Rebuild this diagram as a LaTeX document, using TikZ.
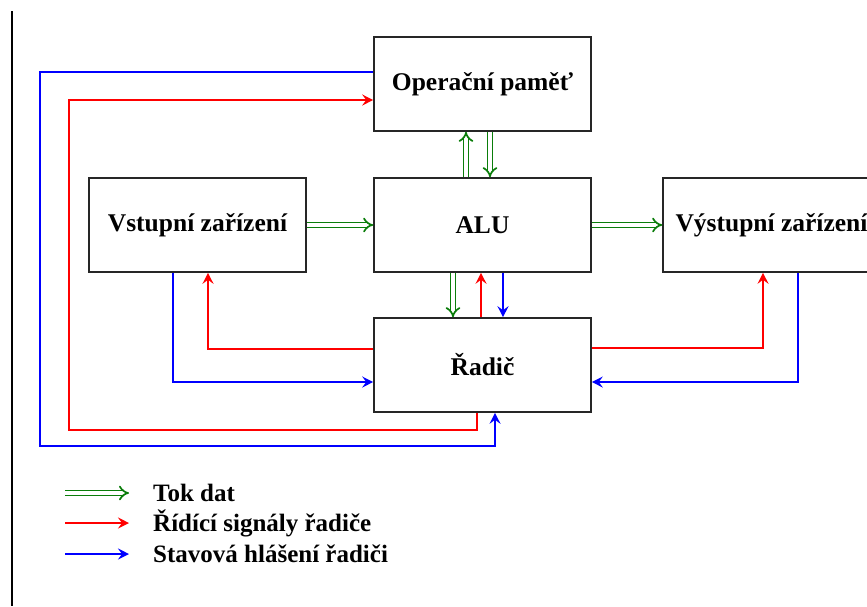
\documentclass[tikz,border=0pt]{standalone}
\usepackage{fontspec}
\setmainfont{Liberation Serif}
\usetikzlibrary{arrows.meta}
\definecolor{dgreen}{RGB}{10,125,10}
\definecolor{cred}{RGB}{255,0,0}
\definecolor{cblue}{RGB}{0,0,255}
\tikzset{
  box/.style={draw=black!85, line width=1.6pt, minimum width=217pt, minimum height=94pt, inner sep=0pt,
    font=\bfseries\fontsize{25.5}{29}\selectfont},
  lbl/.style={anchor=west, inner sep=0pt, font=\bfseries\fontsize{25}{29}\selectfont},
  data/.style={draw=dgreen, line width=1.7pt, double=white, double distance=3.2pt, -{Implies[length=9pt,width=15pt]}},
  ctrl/.style={draw=cred, line width=1.6pt, -{Stealth[length=11pt,width=11pt,inset=4pt]}},
  stat/.style={draw=cblue, line width=1.6pt, -{Stealth[length=11pt,width=11pt,inset=4pt]}},
}
\begin{document}
\begin{tikzpicture}[x=1pt,y=-1pt]
\useasboundingbox (0,0) rectangle (867,606);
\clip (0,0) rectangle (867,606);
\fill[white] (0,0) rectangle (867,606);
% left frame line
\coordinate (f1) at (12,11);
\coordinate (f2) at (12,606);
\draw[line width=1.8pt] (f1) -- (f2);
% boxes
\node[box] (mem) at (482.5,84) {Operační paměť};
\node[box] (in) at (197.5,225) {Vstupní zařízení};
\node[box] (alu) at (482.5,225) {ALU};
\node[box] (out) at (771.5,225) {Výstupní zařízení};
\node[box] (ctl) at (482.5,365) {Řadič};
% data flow
\draw[data] (in.east) -- (alu.west);
\draw[data] (alu.east) -- (out.west);
\draw[data] ([xshift=-16.5pt]alu.north) -- ([xshift=-16.5pt]mem.south);
\draw[data] ([xshift=7.5pt]mem.south) -- ([xshift=7.5pt]alu.north);
\draw[data] ([xshift=-29.5pt]alu.south) -- ([xshift=-29.5pt]ctl.north);
% ALU <-> controller
\draw[ctrl] ([xshift=-1.5pt]ctl.north) -- ([xshift=-1.5pt]alu.south);
\draw[stat] ([xshift=20.5pt]alu.south) -- ([xshift=20.5pt]ctl.north);
% input device
\draw[ctrl] ([yshift=16pt]ctl.west) -| ([xshift=10.5pt]in.south);
\draw[stat] ([xshift=-24.5pt]in.south) |- ([yshift=-17pt]ctl.west);
% output device
\draw[ctrl] ([yshift=17pt]ctl.east) -| ([xshift=-8.5pt]out.south);
\draw[stat] ([xshift=26.5pt]out.south) |- ([yshift=-17pt]ctl.east);
% memory loops
\coordinate (bl) at (40,446);
\coordinate (rl) at (69,430);
\draw[stat] ([yshift=12pt]mem.west) -| (bl) -| ([xshift=12.5pt]ctl.south);
\draw[ctrl] ([xshift=-5.5pt]ctl.south) |- (rl) |- ([yshift=-16pt]mem.west);
% legend
\coordinate (g1) at (65,493); \coordinate (g2) at (129,493);
\coordinate (r1) at (65,523); \coordinate (r2) at (129,523);
\coordinate (s1) at (65,554); \coordinate (s2) at (129,554);
\draw[data] (g1) -- (g2);
\draw[ctrl] (r1) -- (r2);
\draw[stat] (s1) -- (s2);
\node[lbl] (t1) at (153,493) {Tok dat};
\node[lbl] (t2) at (153,523) {Řídící signály řadiče};
\node[lbl] (t3) at (153,554) {Stavová hlášení řadiči};
\end{tikzpicture}
\end{document}
